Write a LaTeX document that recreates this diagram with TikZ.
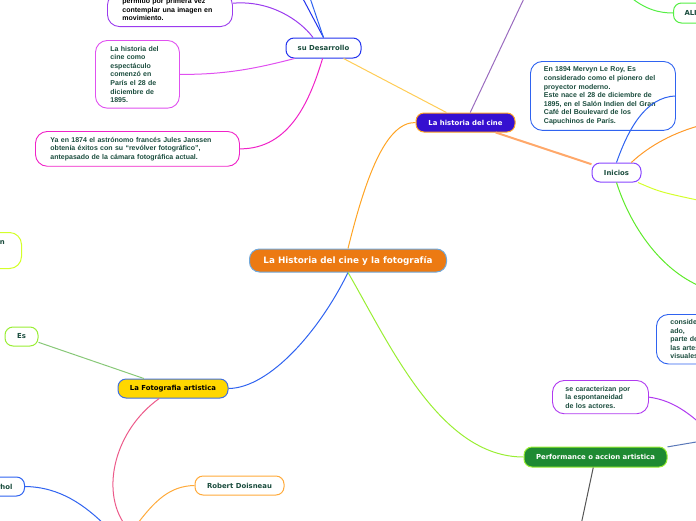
\documentclass[tikz,border=0pt]{standalone}
\usepackage{fontspec}
\setmainfont{Liberation Sans}
\newfontfamily\topicfont{DejaVu Sans}
\usepackage{xcolor}
\usetikzlibrary{positioning, calc}

\definecolor{ink}{HTML}{1B4D3E}
\definecolor{rootFill}{HTML}{EC7A12}
\definecolor{rootBd}{HTML}{6FA8DC}
\definecolor{histFill}{HTML}{3510D0}
\definecolor{orangeL}{HTML}{FFA424}
\definecolor{peach}{HTML}{FFA86A}
\definecolor{sand}{HTML}{FFCC55}
\definecolor{blueD}{HTML}{2233EE}
\definecolor{blueM}{HTML}{2F63F0}
\definecolor{violet}{HTML}{8844FF}
\definecolor{purpleM}{HTML}{9B3BEE}
\definecolor{purpleL}{HTML}{B03AF0}
\definecolor{lilac}{HTML}{9A6BBF}
\definecolor{magL}{HTML}{E050F0}
\definecolor{magD}{HTML}{F022C8}
\definecolor{gold}{HTML}{FFD700}
\definecolor{fotoBd}{HTML}{3F6FE0}
\definecolor{perfFill}{HTML}{1E8A32}
\definecolor{limeG}{HTML}{99EE33}
\definecolor{limeY}{HTML}{D4FF2A}
\definecolor{greenL}{HTML}{5EEA2A}
\definecolor{greenA}{HTML}{55EE44}
\definecolor{sage}{HTML}{88C878}
\definecolor{rose}{HTML}{EC5A8A}
\definecolor{apricot}{HTML}{FFAA3A}
\definecolor{orangeD}{HTML}{FF9A2A}
\definecolor{steel}{HTML}{5A78B8}
\definecolor{slate}{HTML}{555555}

\begin{document}
\begin{tikzpicture}[
        x=1pt, y=-1pt,
        topic/.style={draw=#1, line width=1pt, rounded corners=8pt, fill=white, text=ink, font=\topicfont\fontsize{6.9}{8}\selectfont\bfseries, minimum height=19pt, inner xsep=4pt},
        topic/.default=blueD,
        hub/.style={fill=#1, text=white, line width=1pt, rounded corners=8pt, font=\topicfont\fontsize{6.9}{8}\selectfont\bfseries, minimum height=19pt},
        note/.style={draw=#1, line width=0.9pt, rounded corners=12pt, fill=white, text=ink, font=\fontsize{7}{8.6}\selectfont\bfseries, align=left, inner xsep=15pt, inner ysep=5.5pt},
        note/.default=blueM,
        link/.style={draw=#1, line width=1pt},
    ]
    \useasboundingbox (0,0) rectangle (696,520);
    \clip (0,0) rectangle (696,520);

    % ---- Centre ----
    \node[hub=rootFill, draw=rootBd, rounded corners=10pt, minimum width=197pt, minimum height=23pt, font=\topicfont\fontsize{8.8}{10}\selectfont\bfseries] (root) at (348,260.5) {La Historia del cine y la fotografía};

    % ---- La historia del cine ----
    \node[hub=histFill, draw=orangeL, minimum width=99pt] (cine) at (465.5,122.5) {La historia del cine};
    \node[topic=blueD, minimum width=75pt, minimum height=20pt] (desarrollo) at (323.5,48) {su Desarrollo};
    \node[topic=violet, minimum width=49pt] (inicios) at (616.5,172.5) {Inicios};
    \node[topic=greenA, anchor=west, minimum height=20pt, inner xsep=11pt] (ali) at (673,13) {ALI};

    \node[note=purpleM, text=black, anchor=south west, text width=95pt] (mov-box) at (107,27) {permitió por primera vez\\contemplar una imagen en\\movimiento.};
    \node[note=magL, anchor=north west, text width=54pt] (esp-box) at (95,40) {La historia del\\cine como\\espectáculo\\comenzó en\\París el 28 de\\diciembre de\\1895.};
    \node[note=magD, anchor=north west, text width=174pt] (jan-box) at (35,131) {Ya en 1874 el astrónomo francés Jules Janssen\\obtenía éxitos con su “revólver fotográfico”,\\antepasado de la cámara fotográfica actual.};
    \node[note=blueM, anchor=north west, text width=118pt, inner xsep=13.5pt] (ini-box) at (530,61) {En 1894 Mervyn Le Roy, Es\\considerado como el pionero del\\proyector moderno.\\Este nace el 28 de diciembre de\\1895, en el Salón Indien del Gran\\Café del Boulevard de los\\Capuchinos de París.};

    % ---- La Fotografia artistica ----
    \node[hub=gold, draw=fotoBd, text=black, minimum width=110pt] (foto) at (173,388.5) {La Fotografia artistica};
    \node[topic=limeG, minimum width=33pt] (es) at (21.5,336.5) {Es};
    \node[topic=apricot, minimum width=89pt] (doisneau) at (239.5,485.5) {Robert Doisneau};
    \node[topic=blueM, anchor=east, inner xsep=12pt] (warhol) at (25,486.5) {rhol};
    \node[topic=limeY, anchor=north east, minimum width=50pt, minimum height=36pt, rounded corners=12pt] (lft) at (22,232) {};
    \node[font=\topicfont\fontsize{6.9}{8}\selectfont\bfseries, text=ink, anchor=east, inner sep=0pt] (lft-txt) at ($(lft.north east)+(-17,11)$) {n};

    % ---- Performance ----
    \node[hub=perfFill, draw=limeG, minimum width=143pt, minimum height=20pt] (perf) at (595.5,457) {Performance o accion artistica};
    \node[note=purpleL, anchor=north west, text width=70pt, inner xsep=13pt] (esn-box) at (552,380) {se caracterizan por\\la espontaneidad\\de los actores.};
    \node[note=blueM, anchor=north west, text width=40pt, inner xsep=14pt, inner ysep=5pt] (con-box) at (656,314) {conside\\ado,\\parte de\\las artes\\visuales};

    % ---- free ends ----
    \coordinate (cine-up) at (528,-10);
    \coordinate (des-upA) at (301,-5);
    \coordinate (des-upB) at (309,-5);
    \coordinate (ali-in) at (628,-5);
    \coordinate (ini-outA) at (702,125);
    \coordinate (ini-outB) at (702,201);
    \coordinate (ini-outC) at (702,287);
    \coordinate (perf-out) at (702,441);
    \coordinate (esn-out) at (702,425);
    \coordinate (perf-down) at (581,525);
    \coordinate (foto-down) at (125,525);
    \coordinate (war-down) at (108,528);
    \coordinate (doi-down) at (135,527);

    % ---- connectors ----
    \draw[link=orangeL] (root.north) .. controls (365,180) and (385,122) .. (cine.west);
    \draw[link=blueM] (root.south) .. controls (320,330) and (270,388) .. (foto.east);
    \draw[link=limeG] (root.south) .. controls (390,345) and (440,457) .. (perf.west);

    \draw[link=sand] (desarrollo) -- (cine);
    \draw[link=lilac] (cine) -- (cine-up);
    \draw[link=peach, line width=2pt] (cine) -- (inicios);

    \draw[link=blueM] (inicios.north) .. controls (628,130) and (645,97) .. (ini-box.east);
    \draw[link=orangeD] (inicios.34) .. controls (650,145) and (675,132) .. (ini-outA);
    \draw[link=limeY] (inicios.-25) .. controls (660,192) .. (ini-outB);
    \draw[link=greenL] (inicios.south) .. controls (630,225) and (660,270) .. (ini-outC);
    \draw[link=greenA] (ali-in) .. controls (645,10) and (660,13) .. (ali.west);

    \draw[link=blueD] (desarrollo.north) -- (des-upA);
    \draw[link=blueM] (desarrollo.north) -- (des-upB);
    \draw[link=purpleM] (mov-box.6) .. controls (270,0) and (300,20) .. (desarrollo.135);
    \draw[link=magL] (esp-box.east) .. controls (230,75) and (265,66) .. (desarrollo.200);
    \draw[link=magD] (desarrollo.265) .. controls (310,100) and (290,149) .. (jan-box.east);

    \draw[link=sage] (foto) -- (es);
    \draw[link=rose] (foto.216) .. controls (115,430) and (100,490) .. (foto-down);
    \draw[link=blueM] (warhol.east) .. controls (60,487) and (85,505) .. (war-down);
    \draw[link=apricot] (doisneau.west) .. controls (170,486) and (155,500) .. (doi-down);

    \draw[link=slate] (perf) -- (perf-down);
    \draw[link=steel] (perf.8) -- (perf-out);
    \draw[link=purpleL] (esn-box.east) .. controls (670,400) and (685,410) .. (esn-out);
\end{tikzpicture}
\end{document}
